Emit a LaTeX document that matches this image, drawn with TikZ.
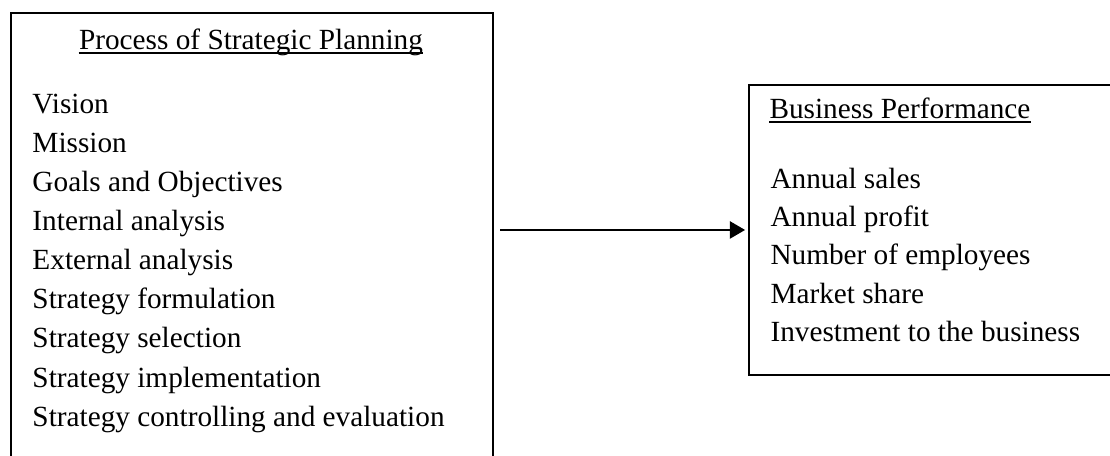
\documentclass[tikz,border=0pt]{standalone}
\usepackage{fontspec}
\setmainfont{Liberation Serif}
\usetikzlibrary{arrows.meta, positioning, calc}
\tikzset{
  frame/.style={rectangle, draw, line width=0.8pt, anchor=north west, inner sep=0pt},
  item/.style={font=\fontsize{12}{15}\selectfont, inner sep=0pt, anchor=base west},
  uline/.style={line width=0.75pt},
  arrow/.style={-{Triangle[length=6.2pt, width=7pt]}, line width=0.8pt}
}

\begin{document}
\begin{tikzpicture}[x=0.41pt, y=-0.41pt]
  \useasboundingbox (0,0) rectangle (1110,456);
  % the two boxes (both run past the page edge)
  \node[frame, minimum width=197.6pt, minimum height=188pt] (procbox) at (10,12) {};
  \node[frame, minimum width=152.5pt, minimum height=118.9pt] (perfbox) at (748,84) {};
  % left box
  \node[item, anchor=base] (proctitle) at (251,50) {Process of Strategic Planning};
  \draw[uline] ([yshift=-1.2pt]proctitle.base west) -- ([yshift=-1.2pt]proctitle.base east);
  \foreach \t [count=\i] in {Vision, Mission, Goals and Objectives, Internal analysis,
      External analysis, Strategy formulation, Strategy selection,
      Strategy implementation, Strategy controlling and evaluation}
    \node[item] (proc\i) at (32,{114+39*(\i-1)}) {\t};
  % right box
  \node[item] (perftitle) at (769,119) {Business Performance};
  \draw[uline] ([yshift=-1.2pt]perftitle.base west) -- ([yshift=-1.2pt]perftitle.base east);
  \foreach \t [count=\i] in {Annual sales, Annual profit, Number of employees,
      Market share, Investment to the business}
    \node[item] (perf\i) at (770,{189+38*(\i-1)}) {\t};
  \draw[arrow, shorten <=2.5pt, shorten >=1.2pt] (procbox.east |- perfbox.west) -- (perfbox.west);
\end{tikzpicture}
\end{document}
